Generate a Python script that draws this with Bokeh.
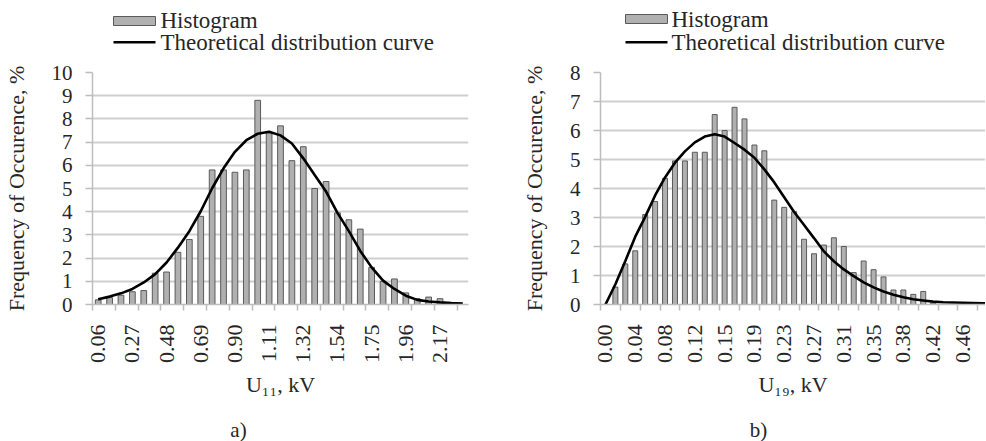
from bokeh.plotting import figure
from bokeh.models import Range1d, FixedTicker, ColumnDataSource
from bokeh.layouts import row, column
from bokeh.embed import file_html
from bokeh.resources import INLINE
from bokeh.core.properties import value

FONT = "Liberation Serif"
TXT = "#262626"
GRID = "#cfcfcf"
AXIS = "#bdbdbd"
BAR_FILL = "#b0b0b0"
BAR_LINE = "#5a5a5a"

# ---- chart a) : U11 ----
a_tick_labels = ["0.06", "0.27", "0.48", "0.69", "0.90", "1.11", "1.32", "1.54", "1.75", "1.96", "2.17"]
a_hist = [0.2, 0.3, 0.4, 0.55, 0.6, 1.35, 1.4, 2.25, 2.8, 3.8, 5.8, 5.8, 5.7, 5.8, 8.8,
          7.4, 7.7, 6.2, 6.8, 5.0, 5.3, 3.95, 3.65, 3.25, 1.6, 1.0, 1.1, 0.5, 0.25, 0.32,
          0.25, 0.0, 0.0]
a_curve = [0.23, 0.34, 0.48, 0.67, 0.95, 1.31, 1.81, 2.45, 3.16, 4.02, 5.01, 5.87, 6.58,
           7.08, 7.36, 7.45, 7.29, 6.94, 6.3, 5.58, 4.87, 3.95, 3.16, 2.31, 1.6, 1.03, 0.67,
           0.38, 0.2, 0.13, 0.09, 0.06, 0.04]

# ---- chart b) : U19 ----
b_tick_labels = ["0.00", "0.04", "0.08", "0.12", "0.15", "0.19", "0.23", "0.27", "0.31",
                 "0.35", "0.38", "0.42", "0.46"]
b_hist = [0.0, 0.6, 1.4, 1.85, 3.1, 3.55, 4.35, 4.95, 4.95, 5.25, 5.25, 6.55, 6.0, 6.8, 6.4,
          5.5, 5.3, 3.6, 3.35, 3.2, 2.25, 1.75, 2.05, 2.3, 2.0, 1.1, 1.5, 1.2, 0.95, 0.5,
          0.5, 0.35, 0.45, 0.05, 0.0, 0.0, 0.0, 0.0, 0.0, 0.0]
b_curve = [0.0, 0.7, 1.5, 2.34, 3.02, 3.76, 4.38, 4.89, 5.28, 5.59, 5.79, 5.87, 5.79, 5.57,
           5.34, 5.06, 4.66, 4.21, 3.7, 3.19, 2.74, 2.29, 1.83, 1.49, 1.21, 0.98, 0.76, 0.59,
           0.45, 0.34, 0.25, 0.18, 0.14, 0.1, 0.08, 0.07, 0.06, 0.05, 0.04, 0.04]

Y_TITLE = "Frequency of Occurence, %"
LEGEND_LABELS = ["Histogram", "Theoretical distribution curve"]

HEAD_H = 60


def blank(width, height):
    f = figure(width=width, height=height, output_backend="svg", toolbar_location=None,
               x_range=Range1d(0, width), y_range=Range1d(height, 0),
               x_axis_location=None, y_axis_location=None,
               min_border=0, min_border_left=0, min_border_right=0,
               min_border_top=0, min_border_bottom=0)
    f.grid.visible = False
    f.outline_line_color = None
    f.background_fill_color = "white"
    f.border_fill_color = "white"
    return f


def make_header(width, rect_box, line_y, text_x, mid1, mid2):
    h = blank(width, HEAD_H)
    l, r, t, b = rect_box
    h.quad(left=[l], right=[r], top=[t], bottom=[b], fill_color=BAR_FILL,
           line_color=BAR_LINE, line_width=1)
    h.line(x=[l, r], y=[line_y, line_y], line_color="black", line_width=2.6)
    h.text(x=[text_x, text_x], y=[mid1, mid2], text=LEGEND_LABELS,
           text_font=value(FONT), text_font_size="23px", text_color=TXT,
           text_baseline="middle", text_align="left")
    return h


def make_caption(width, cx, text):
    c = blank(width, 42)
    c.text(x=[cx], y=[29], text=[text], text_font=value(FONT), text_font_size="21px",
           text_color=TXT, text_baseline="middle", text_align="center")
    return c


def make_chart(hist, curve, tick_labels, ymax, xend, width, left, right, xlabel):
    n = len(hist)
    idx = list(range(n))
    src = ColumnDataSource(dict(x=idx, hist=hist, curve=curve))
    p = figure(width=width, height=400 - HEAD_H, output_backend="svg", toolbar_location=None,
               x_range=Range1d(-0.5, xend), y_range=Range1d(0, ymax),
               min_border_left=left, min_border_right=right,
               min_border_top=72 - HEAD_H, min_border_bottom=93)
    p.outline_line_color = None
    p.background_fill_color = "white"
    p.border_fill_color = "white"

    p.vbar(x="x", top="hist", width=0.5, source=src,
           fill_color=BAR_FILL, line_color=BAR_LINE, line_width=1)
    p.line(x="x", y="curve", source=src, line_color="black", line_width=2.6)

    # x axis: labels every 3 categories, tick marks every 2 categories
    major = list(range(0, n, 3))[:len(tick_labels)]
    minor = [k - 0.5 for k in range(0, n + 1, 2)]
    xa = p.xaxis[0]
    xa.ticker = FixedTicker(ticks=major, minor_ticks=minor)
    xa.major_label_overrides = {k: lab for k, lab in zip(major, tick_labels)}
    xa.major_label_orientation = 1.5707963267948966
    xa.major_tick_out = 0
    xa.major_tick_in = 0
    xa.minor_tick_out = 6
    xa.minor_tick_in = 0
    xa.minor_tick_line_color = AXIS
    xa.minor_tick_line_width = 1.5
    xa.axis_line_color = AXIS
    xa.axis_line_width = 1.5
    xa.major_label_standoff = 14
    xa.major_label_text_font = FONT
    xa.major_label_text_font_size = "22px"
    xa.major_label_text_color = TXT
    xa.axis_label = xlabel
    xa.axis_label_text_font = FONT
    xa.axis_label_text_font_size = "22px"
    xa.axis_label_text_font_style = "normal"
    xa.axis_label_text_color = TXT
    xa.axis_label_standoff = 6

    ya = p.yaxis[0]
    ya.ticker = FixedTicker(ticks=list(range(0, ymax + 1)))
    ya.minor_tick_line_color = None
    ya.major_tick_out = 7
    ya.major_tick_in = 0
    ya.major_tick_line_color = AXIS
    ya.major_tick_line_width = 1.5
    ya.axis_line_color = AXIS
    ya.axis_line_width = 1.5
    ya.major_label_standoff = 13
    ya.major_label_text_font = FONT
    ya.major_label_text_font_size = "21px"
    ya.major_label_text_color = TXT
    ya.axis_label = Y_TITLE
    ya.axis_label_text_font = FONT
    ya.axis_label_text_font_size = "22px"
    ya.axis_label_text_font_style = "normal"
    ya.axis_label_text_color = TXT
    ya.axis_label_standoff = 20

    p.xgrid.grid_line_color = None
    p.ygrid.grid_line_color = GRID
    p.ygrid.grid_line_width = 1.8
    return p


WA, WB = 490, 495

pa = make_chart(a_hist, a_curve, a_tick_labels, 10, 32.5, WA, 90, 22, "U\u2081\u2081, kV")
pb = make_chart(b_hist, b_curve, b_tick_labels, 8, 38.27, WB, 110, 0, "U\u2081\u2089, kV")

ha = make_header(WA, (113, 155, 16, 25), 41.7, 160, 19.5, 42.2)
hb = make_header(WB, (135, 177, 14, 23), 41.7, 181, 18.5, 42.2)

ca = make_caption(WA, 238, "a)")
cb = make_caption(WB, 268, "b)")

layout = column(row(ha, hb), row(pa, pb), row(ca, cb))
open("out.html", "w").write(file_html(layout, INLINE))
